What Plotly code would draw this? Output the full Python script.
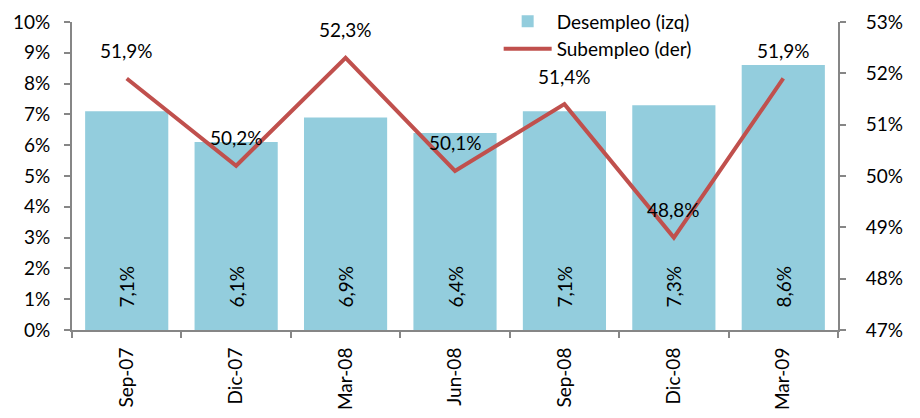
import plotly.graph_objects as go

categorias = ["Sep-07", "Dic-07", "Mar-08", "Jun-08", "Sep-08", "Dic-08", "Mar-09"]
desempleo = [7.1, 6.1, 6.9, 6.4, 7.1, 7.3, 8.6]
subempleo = [51.9, 50.2, 52.3, 50.1, 51.4, 48.8, 51.9]

FONT = "Lato"
FS = 19
AX = "#868686"
BAR = "#93CDDD"
LINE = "#C0504D"

fig = go.Figure()
fig.add_trace(go.Bar(
    x=categorias, y=desempleo, name="Desempleo (izq)",
    marker=dict(color=BAR, line=dict(width=0)),
    texttemplate="\u00a0\u00a0\u00a0\u00a0%{y:.1f}%", textposition="inside", insidetextanchor="start",
    textangle=-90, textfont=dict(family=FONT, size=FS, color="black"),
    legendgroup="a", yaxis="y",
))
fig.add_trace(go.Scatter(
    x=categorias, y=subempleo, name="Subempleo (der)", mode="lines",
    line=dict(color=LINE, width=4), legendgroup="b", yaxis="y2",
))

for c, v in zip(categorias, subempleo):
    fig.add_annotation(x=c, y=v, xref="x", yref="y2", text=f"{v:.1f}%".replace(".", ","),
                       showarrow=False, yshift=28,
                       font=dict(family=FONT, size=FS, color="black"))

fig.update_layout(
    width=912, height=410,
    margin=dict(l=64, r=82, t=14, b=88, autoexpand=False),
    paper_bgcolor="white", plot_bgcolor="white",
    separators=",.",
    font=dict(family=FONT, size=FS, color="black"),
    bargap=0.24,
    showlegend=True,
    legend=dict(x=0.557, y=1.064, xanchor="left", yanchor="top",
                bgcolor="rgba(0,0,0,0)", traceorder="grouped", tracegroupgap=0,
                itemwidth=48, font=dict(family=FONT, size=FS)),
    xaxis=dict(type="category", showline=True, linecolor=AX, linewidth=2,
               ticks="outside", tickson="boundaries", ticklen=6, tickcolor=AX, tickwidth=2,
               tickangle=-90, ticklabelstandoff=8, showgrid=False, automargin=False,
               tickfont=dict(family=FONT, size=FS)),
    yaxis=dict(range=[0, 10], dtick=1, ticksuffix="%", showline=True, linecolor=AX,
               linewidth=2, ticks="outside", ticklen=6, tickcolor=AX, tickwidth=2,
               showgrid=False, zeroline=False, ticklabelstandoff=10, automargin=False,
               tickfont=dict(family=FONT, size=FS)),
    yaxis2=dict(range=[47, 53], dtick=1, ticksuffix="%", overlaying="y", side="right",
                showline=True, linecolor=AX, linewidth=2, ticks="outside", ticklen=6,
                tickcolor=AX, tickwidth=2, showgrid=False, zeroline=False, automargin=False,
                ticklabelstandoff=16, tickfont=dict(family=FONT, size=FS)),
)

fig.write_html("out.html")
